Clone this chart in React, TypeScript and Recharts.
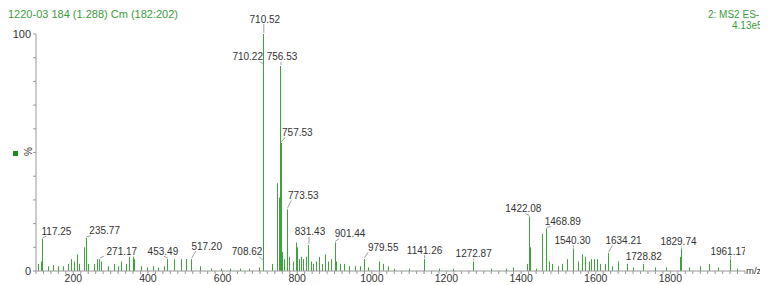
import React from "react";
import { ComposedChart, Bar, Scatter, XAxis, YAxis } from "recharts";

// [m/z, relative intensity %]
const lowMassPeaks: [number, number][] = [
  [107, 3], [115, 4], [117.25, 13.5], [133, 2], [146, 2.5], [160, 2], [173, 2],
  [187, 3], [195, 5], [203, 4], [210, 7], [216, 3], [229, 10], [235.77, 14],
  [241, 3], [256, 3], [266, 5], [271.17, 5], [275, 4], [293, 2], [310, 3],
  [320, 2], [329, 4], [342, 3], [350, 6], [360, 6], [364, 5], [382, 2],
  [400, 1.5], [414, 2], [427, 1.5], [444, 2], [453.49, 5], [470, 5], [489, 5],
  [502, 5], [517.2, 5], [542, 2], [569, 1], [596, 1], [622, 1], [649, 1],
  [671, 1], [700, 1.5],
];

const parentCluster: [number, number][] = [
  [708.62, 4], [710.22, 87], [710.52, 100], [735, 3], [748, 37], [753, 31],
  [756.53, 86.5], [757.53, 54], [760, 8], [765, 5], [773.53, 26], [780, 6],
  [790, 4], [798, 12], [801, 10], [806, 5], [812, 6], [818, 5], [825, 6],
  [831.43, 11], [837, 4], [845, 3], [852, 4], [860, 6], [868, 3], [875, 7],
  [885, 4], [893, 5], [901.44, 12], [905, 4], [915, 3], [928, 3], [940, 2],
  [955, 2], [970, 2], [979.55, 5], [990, 1.5], [1020, 4], [1030, 3], [1045, 2],
  [1060, 1],
];

const highMassPeaks: [number, number][] = [
  [1100, 1], [1141.26, 5], [1180, 1], [1220, 1], [1272.87, 4], [1320, 1],
  [1360, 1], [1380, 1.5], [1418, 3], [1422.08, 23], [1424, 10], [1440, 1],
  [1458, 15.6], [1468.89, 18], [1475, 4], [1485, 3], [1500, 2], [1512, 3],
  [1525, 5], [1540.3, 9.5], [1555, 4], [1565, 7], [1572, 6], [1583, 4],
  [1590, 5], [1597, 5], [1604, 5], [1612, 3], [1625, 3], [1634.21, 7.5],
  [1645, 2], [1660, 4], [1685, 3], [1700, 1.5], [1728.82, 3], [1760, 1.5],
  [1790, 1.5], [1826, 6], [1829.74, 9.5], [1850, 1.5], [1880, 2], [1905, 3],
  [1930, 1.5], [1961.17, 5], [1980, 1],
];

const labelledMz = [
  117.25, 235.77, 271.17, 453.49, 517.2, 708.62, 710.22, 710.52, 756.53, 757.53,
  773.53, 831.43, 901.44, 979.55, 1141.26, 1272.87, 1422.08, 1468.89, 1540.3,
  1634.21, 1728.82, 1829.74, 1961.17,
];

const xMajorTicks = [200, 400, 600, 800, 1000, 1200, 1400, 1600, 1800];
const xMinorTicks = Array.from({ length: 96 }, (_, i) => 100 + i * 20);
const yTicks = [0, 10, 20, 30, 40, 50, 60, 70, 80, 90, 100];
const yLabelled = [0, 100];

// label offset from the peak tip, px
const labelNudge: Record<string, [number, number]> = {
  "117.25": [14, -8],
  "235.77": [18, -7],
  "271.17": [22, -8],
  "453.49": [-5, -8],
  "517.20": [15, -13],
  "708.62": [-16, -10],
  "710.22": [-16, -8],
  "710.52": [1, -15],
  "756.53": [1, -9],
  "757.53": [16, -11],
  "773.53": [16, -14],
  "831.43": [1, -13],
  "901.44": [15, -9],
  "979.55": [19, -12],
  "1141.26": [0, -9],
  "1272.87": [0, -8],
  "1422.08": [-6, -8],
  "1468.89": [16, -7],
  "1540.30": [-1, -8],
  "1634.21": [15, -13],
  "1728.82": [0, -7],
  "1829.74": [-3, -7],
  "1961.17": [-2, -8],
};

const spectrum = [...lowMassPeaks, ...parentCluster, ...highMassPeaks].map(
  ([mz, pct]) => ({ mz, pct })
);
const labelled = spectrum.filter((p) => labelledMz.includes(p.mz));

const font = "'Liberation Sans', Arial, sans-serif";
const green = "#3da43d";
const textGreen = "#3c9c3c";

const Stick = (props: any) => {
  const { x, y, width, height } = props;
  if (!height || height <= 0) return null;
  return <rect x={Math.round(x + width / 2 - 0.5)} y={y} width={1} height={height} fill={green} />;
};

const PeakLabel = (props: any) => {
  const { cx, cy, payload } = props;
  const key = payload.mz.toFixed(2);
  const [dx, dy] = labelNudge[key] ?? [0, -8];
  const tx = cx + dx;
  const ty = cy + dy;
  const s = Math.sign(dx);
  let leader = null;
  if (Math.abs(dx) > 4) {
    leader = <line x1={cx} y1={cy - 1} x2={cx + s * 4} y2={ty + 5} stroke="#888" strokeWidth={0.8} />;
  } else if (ty + 5 < cy - 1) {
    leader = <line x1={cx} y1={cy - 1} x2={cx} y2={ty + 5} stroke="#888" strokeWidth={0.8} />;
  }
  return (
    <g>
      {leader}
      <text x={tx} y={ty} textAnchor="middle" dominantBaseline="central" fontSize={10} fontFamily={font} fill="#333">
        {key}
      </text>
    </g>
  );
};

const XTick = (props: any) => {
  const { x, y, payload } = props;
  if (!xMajorTicks.includes(payload.value)) return null;
  return (
    <text x={x} y={y} dy="0.71em" textAnchor="middle" fontSize={10.5} fontFamily={font} fill="#333">
      {payload.value}
    </text>
  );
};

const YTick = (props: any) => {
  const { x, y, payload } = props;
  if (!yLabelled.includes(payload.value)) return null;
  return (
    <text x={x} y={y} dy="0.35em" textAnchor="end" fontSize={11} fontFamily={font} fill="#333">
      {payload.value}
    </text>
  );
};

const App: React.FC = () => {
  return (
    <div style={{ position: "relative", width: 760, height: 277, fontFamily: font }}>
      <style>{"html,body{overflow:hidden} .recharts-surface{overflow:visible}"}</style>
      <div style={{ position: "absolute", left: 0, top: 0, fontSize: 11, color: textGreen, whiteSpace: "nowrap" }}>
        1220-03 184 (1.288) Cm (182:202)
      </div>
      <div style={{ position: "absolute", left: 700, top: 1, fontSize: 10, lineHeight: "11px", color: textGreen, whiteSpace: "nowrap" }}>
        2: MS2 ES-
        <br />
        <span style={{ paddingLeft: 24 }}>4.13e5</span>
      </div>
      <div style={{ position: "absolute", left: 5, top: 143, width: 5, height: 5, background: "#1c8c1c" }} />
      <div
        style={{
          position: "absolute",
          left: 16,
          top: 138,
          fontSize: 10,
          color: "#333",
          transform: "rotate(-90deg)",
        }}
      >
        %
      </div>
      <div style={{ position: "absolute", left: 738, top: 257, fontSize: 9.5, color: "#333" }}>m/z</div>
      <ComposedChart
        width={760}
        height={277}
        data={spectrum}
        margin={{ top: 26, right: 23, bottom: 0, left: 0 }}
      >
        <XAxis
          dataKey="mz"
          type="number"
          domain={[100, 2000]}
          ticks={xMinorTicks}
          interval={0}
          tick={<XTick />}
          tickSize={3}
          tickMargin={1}
          height={14}
          stroke="#999"
          allowDataOverflow
        />
        <YAxis
          type="number"
          domain={[0, 100]}
          ticks={yTicks}
          interval={0}
          tick={<YTick />}
          tickSize={3}
          tickMargin={2}
          width={28}
          stroke="#999"
        />
        <Bar dataKey="pct" fill={green} barSize={1} shape={<Stick />} isAnimationActive={false} />
        <Scatter data={labelled} dataKey="pct" shape={<PeakLabel />} isAnimationActive={false} />
      </ComposedChart>
    </div>
  );
};

export default App;
